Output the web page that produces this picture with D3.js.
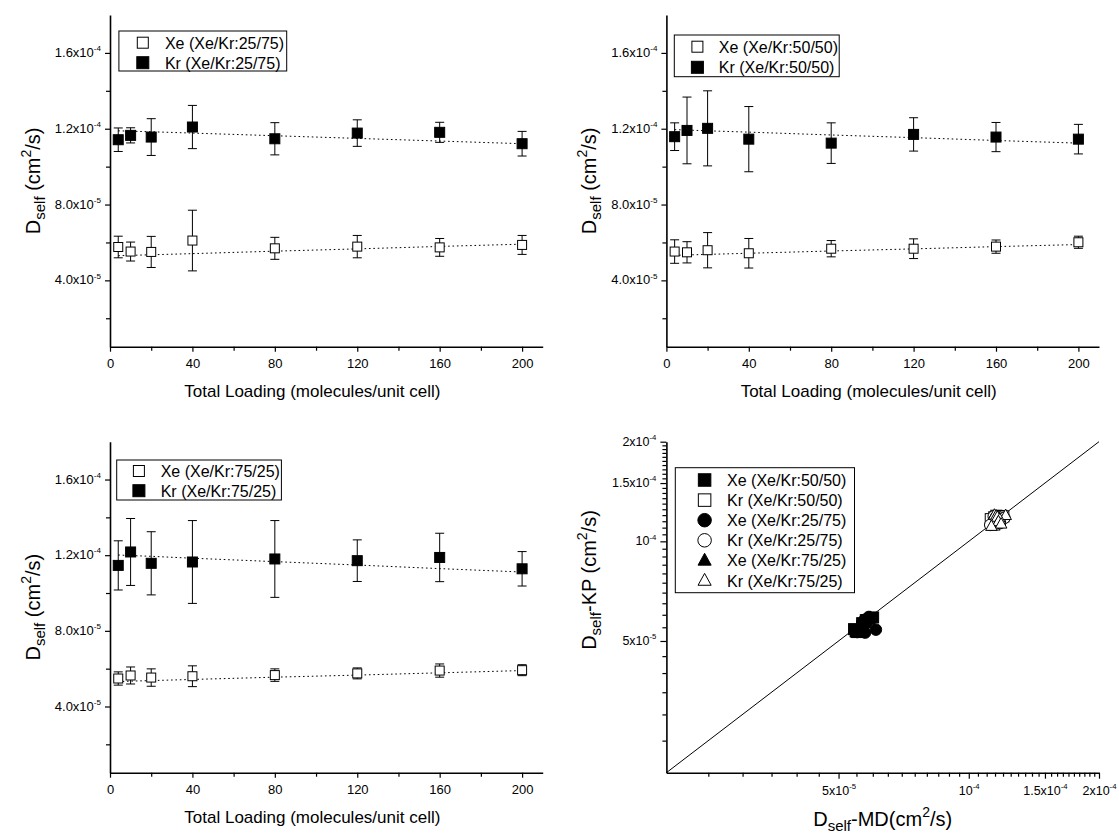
<!DOCTYPE html>
<html>
<head>
<meta charset="utf-8">
<script src="https://cdn.jsdelivr.net/npm/d3@7"></script>
<style>
  body { margin: 0; background: #fff; }
  svg { display: block; }
  text { font-family: "Liberation Sans", Arial, sans-serif; fill: #000; }
</style>
</head>
<body>
<svg id="chart" width="1119" height="838"></svg>
<script>
// ---------------- DATA ----------------
const loading = [4, 10, 20, 40, 80, 120, 160, 200];

// Xe/Kr 25/75
const xe2575    = [5.76e-5, 5.52e-5, 5.50e-5, 6.10e-5, 5.69e-5, 5.78e-5, 5.74e-5, 5.87e-5];
const xe2575Err = [0.57e-5, 0.50e-5, 0.82e-5, 1.60e-5, 0.58e-5, 0.59e-5, 0.47e-5, 0.50e-5];
const kr2575    = [11.42e-5, 11.65e-5, 11.56e-5, 12.09e-5, 11.47e-5, 11.77e-5, 11.81e-5, 11.21e-5];
const kr2575Err = [0.62e-5, 0.40e-5, 0.97e-5, 1.14e-5, 0.85e-5, 0.70e-5, 0.53e-5, 0.65e-5];
const xe2575KP  = [5.30e-5, 5.32e-5, 5.35e-5, 5.41e-5, 5.54e-5, 5.66e-5, 5.79e-5, 5.91e-5];
const kr2575KP  = [11.89e-5, 11.87e-5, 11.84e-5, 11.77e-5, 11.63e-5, 11.49e-5, 11.35e-5, 11.21e-5];

// Xe/Kr 50/50
const xe5050    = [5.52e-5, 5.48e-5, 5.59e-5, 5.43e-5, 5.67e-5, 5.67e-5, 5.78e-5, 6.01e-5];
const xe5050Err = [0.62e-5, 0.56e-5, 0.93e-5, 0.78e-5, 0.43e-5, 0.52e-5, 0.35e-5, 0.32e-5];
const kr5050    = [11.58e-5, 11.91e-5, 12.02e-5, 11.45e-5, 11.24e-5, 11.70e-5, 11.56e-5, 11.45e-5];
const kr5050Err = [0.73e-5, 1.76e-5, 1.98e-5, 1.72e-5, 1.07e-5, 0.88e-5, 0.77e-5, 0.78e-5];
const xe5050KP  = [5.32e-5, 5.34e-5, 5.37e-5, 5.43e-5, 5.55e-5, 5.66e-5, 5.78e-5, 5.89e-5];
const kr5050KP  = [11.95e-5, 11.93e-5, 11.89e-5, 11.82e-5, 11.67e-5, 11.53e-5, 11.38e-5, 11.24e-5];

// Xe/Kr 75/25
const xe7525    = [5.48e-5, 5.64e-5, 5.53e-5, 5.60e-5, 5.66e-5, 5.75e-5, 5.90e-5, 5.92e-5];
const xe7525Err = [0.35e-5, 0.45e-5, 0.46e-5, 0.55e-5, 0.33e-5, 0.29e-5, 0.35e-5, 0.29e-5];
const kr7525    = [11.46e-5, 12.17e-5, 11.57e-5, 11.64e-5, 11.80e-5, 11.71e-5, 11.88e-5, 11.28e-5];
const kr7525Err = [1.30e-5, 1.77e-5, 1.67e-5, 2.19e-5, 2.03e-5, 1.10e-5, 1.28e-5, 0.91e-5];
const xe7525KP  = [5.32e-5, 5.34e-5, 5.37e-5, 5.43e-5, 5.55e-5, 5.66e-5, 5.78e-5, 5.90e-5];
const kr7525KP  = [12.01e-5, 11.98e-5, 11.94e-5, 11.84e-5, 11.66e-5, 11.48e-5, 11.29e-5, 11.11e-5];

// Axis ticks
const xTickVals  = [0, 40, 80, 120, 160, 200];
const xMinorVals = [20, 60, 100, 140, 180];
const yTickVals  = [4e-5, 8e-5, 1.2e-4, 1.6e-4];
const yTickMant  = ["4.0x10", "8.0x10", "1.2x10", "1.6x10"];
const yTickExp   = ["-5", "-5", "-4", "-4"];
const yMinorVals = [2e-5, 6e-5, 1e-4, 1.4e-4];

const logTickVals = [5e-5, 1e-4, 1.5e-4, 2e-4];
const logTickMant = ["5x10", "10", "1.5x10", "2x10"];
const logTickExp  = ["-5", "-4", "-4", "-4"];

const xLabel = "Total Loading (molecules/unit cell)";

// ---------------- DRAWING ----------------
const svg = d3.select("#chart");
svg.append("rect").attr("width", 1119).attr("height", 838).attr("fill", "#fff");
const FONT = "'Liberation Sans', Arial, sans-serif";

function supLabel(textSel, mant, exp, size) {
  textSel.text(null);
  textSel.append("tspan").text(mant).attr("font-size", size);
  textSel.append("tspan").text(exp).attr("font-size", size * 0.62).attr("dy", -size * 0.45);
}

function yTitle(g, x, y, rest) {
  const t = g.append("text").attr("transform", `translate(${x},${y}) rotate(-90)`)
    .attr("text-anchor", "middle").attr("font-size", 20);
  t.append("tspan").text("D");
  t.append("tspan").text("self").attr("font-size", 15).attr("dy", 5);
  t.append("tspan").text(rest).attr("font-size", 20).attr("dy", -5);
  t.append("tspan").text("2").attr("font-size", 14).attr("dy", -9);
  t.append("tspan").text("/s)").attr("font-size", 20).attr("dy", 9);
}

function marker(g, shape, filled, cx, cy, size) {
  const fill = filled ? "#000" : "#fff";
  let el;
  if (shape === "square") {
    el = g.append("rect").attr("x", cx - size / 2).attr("y", cy - size / 2)
      .attr("width", size).attr("height", size);
  } else if (shape === "circle") {
    el = g.append("circle").attr("cx", cx).attr("cy", cy).attr("r", size / 2);
  } else {
    const h = size * 0.95, w = size * 1.05;
    el = g.append("path").attr("d",
      `M${cx},${cy - h * 0.6}L${cx + w / 2},${cy + h * 0.4}L${cx - w / 2},${cy + h * 0.4}Z`);
  }
  el.attr("fill", fill).attr("stroke", "#000").attr("stroke-width", 1);
}

function loadingPanel(box, series, legendBox) {
  const g = svg.append("g");
  const x = d3.scaleLinear().domain([0, 210]).range([box.left, box.right]);
  const y = d3.scaleLinear().domain([0.5e-5, 1.8e-4]).range([box.bottom, box.top]);

  // axes
  const xAxis = d3.axisBottom(x).tickValues(xTickVals).tickSize(5).tickSizeOuter(0)
    .tickFormat(d3.format("d"));
  const gx = g.append("g").attr("transform", `translate(0,${box.bottom})`).call(xAxis);
  gx.selectAll("text").attr("font-size", 13).attr("font-family", FONT).attr("dy", "1.0em");
  g.append("g").attr("transform", `translate(0,${box.bottom})`)
    .call(d3.axisBottom(x).tickValues(xMinorVals).tickSize(4).tickSizeOuter(0).tickFormat(""))
    .select(".domain").remove();

  const yAxis = d3.axisLeft(y).tickValues(yTickVals).tickSize(5).tickSizeOuter(0)
    .tickFormat(() => "");
  const gy = g.append("g").attr("transform", `translate(${box.left},0)`).call(yAxis);
  gy.selectAll(".tick text").each(function (d, i) {
    d3.select(this).attr("x", -9).attr("dy", "0.35em").attr("font-family", FONT);
    supLabel(d3.select(this), yTickMant[i], yTickExp[i], 13);
  });
  g.append("g").attr("transform", `translate(${box.left},0)`)
    .call(d3.axisLeft(y).tickValues(yMinorVals).tickSize(4).tickSizeOuter(0).tickFormat(""))
    .select(".domain").remove();
  g.selectAll(".domain").attr("stroke-width", 1.6);
  g.selectAll(".tick line").attr("stroke-width", 1.2);

  // titles
  g.append("text").attr("x", (box.left + box.right) / 2 - 14).attr("y", box.bottom + 50)
    .attr("text-anchor", "middle").attr("font-size", 17).text(xLabel);
  yTitle(g, box.left - 70, (box.top + box.bottom) / 2, " (cm");

  // series
  series.forEach(s => {
    const line = d3.line().x((d, i) => x(loading[i])).y(d => y(d));
    g.append("path").datum(s.kp).attr("d", line).attr("fill", "none")
      .attr("stroke", "#000").attr("stroke-width", 1).attr("stroke-dasharray", "1.6,2.8");
  });
  series.forEach(s => {
    s.vals.forEach((v, i) => {
      const cx = x(loading[i]);
      const y1 = y(v + s.err[i]), y2 = y(v - s.err[i]);
      g.append("line").attr("x1", cx).attr("x2", cx).attr("y1", y1).attr("y2", y2)
        .attr("stroke", "#000").attr("stroke-width", 1);
      [y1, y2].forEach(yy => g.append("line").attr("x1", cx - 4.5).attr("x2", cx + 4.5)
        .attr("y1", yy).attr("y2", yy).attr("stroke", "#000").attr("stroke-width", 1));
    });
  });
  series.forEach(s => {
    s.vals.forEach((v, i) => marker(g, "square", s.filled, x(loading[i]), y(v), s.filled ? 10 : 9));
  });

  // legend
  const lb = legendBox;
  g.append("rect").attr("x", lb.x).attr("y", lb.y).attr("width", lb.w).attr("height", lb.h)
    .attr("fill", "#fff").attr("stroke", "#000").attr("stroke-width", 1);
  series.forEach((s, i) => {
    const cy = lb.y + lb.row0 + i * lb.dy;
    marker(g, "square", s.filled, lb.mx, cy, s.filled ? 12 : 11);
    g.append("text").attr("x", lb.tx).attr("y", cy + 6).attr("font-size", 16).text(s.name);
  });
}

loadingPanel({ left: 110, right: 542.7, top: 15, bottom: 346.7 }, [
  { name: "Xe (Xe/Kr:25/75)", vals: xe2575, err: xe2575Err, kp: xe2575KP, filled: false },
  { name: "Kr (Xe/Kr:25/75)", vals: kr2575, err: kr2575Err, kp: kr2575KP, filled: true }
], { x: 118.9, y: 31, w: 167.8, h: 40, row0: 11.7, dy: 20, mx: 142.8, tx: 164.9 });

loadingPanel({ left: 666.4, right: 1099, top: 15, bottom: 346.7 }, [
  { name: "Xe (Xe/Kr:50/50)", vals: xe5050, err: xe5050Err, kp: xe5050KP, filled: false },
  { name: "Kr (Xe/Kr:50/50)", vals: kr5050, err: kr5050Err, kp: kr5050KP, filled: true }
], { x: 674.3, y: 35, w: 164.9, h: 41.7, row0: 11.7, dy: 20.6, mx: 697.4, tx: 718.8 });

loadingPanel({ left: 110, right: 542.7, top: 441.7, bottom: 772.7 }, [
  { name: "Xe (Xe/Kr:75/25)", vals: xe7525, err: xe7525Err, kp: xe7525KP, filled: false },
  { name: "Kr (Xe/Kr:75/25)", vals: kr7525, err: kr7525Err, kp: kr7525KP, filled: true }
], { x: 116.7, y: 460, w: 164.7, h: 40, row0: 11, dy: 19.7, mx: 138.9, tx: 160.7 });

// ---------------- Panel 4: KP vs MD (log-log) ----------------
(function () {
  const box = { left: 666.4, right: 1099, top: 441.7, bottom: 772.7 };
  const g = svg.append("g");
  const x = d3.scaleLog().domain([2e-5, 2e-4]).range([box.left, box.right]);
  const y = d3.scaleLog().domain([2e-5, 2e-4]).range([box.bottom, box.top]);
  const minor = d3.range(2.5e-5, 2.0e-4, 5e-6).filter(v => !logTickVals.some(t => Math.abs(t - v) < 1e-7));

  const gx = g.append("g").attr("transform", `translate(0,${box.bottom})`)
    .call(d3.axisBottom(x).tickValues(logTickVals).tickSize(6).tickSizeOuter(0).tickFormat(() => ""));
  gx.selectAll(".tick text").each(function (d, i) {
    d3.select(this).attr("dy", "1.3em").attr("font-family", FONT);
    supLabel(d3.select(this), logTickMant[i], logTickExp[i], 12.5);
  });
  g.append("g").attr("transform", `translate(0,${box.bottom})`)
    .call(d3.axisBottom(x).tickValues(minor).tickSize(4).tickSizeOuter(0).tickFormat(""))
    .select(".domain").remove();

  const gy = g.append("g").attr("transform", `translate(${box.left},0)`)
    .call(d3.axisLeft(y).tickValues(logTickVals).tickSize(6).tickSizeOuter(0).tickFormat(() => ""));
  gy.selectAll(".tick text").each(function (d, i) {
    d3.select(this).attr("x", -10).attr("dy", "0.35em").attr("font-family", FONT);
    supLabel(d3.select(this), logTickMant[i], logTickExp[i], 12.5);
  });
  g.append("g").attr("transform", `translate(${box.left},0)`)
    .call(d3.axisLeft(y).tickValues(minor).tickSize(4).tickSizeOuter(0).tickFormat(""))
    .select(".domain").remove();
  g.selectAll(".domain").attr("stroke-width", 1.6);
  g.selectAll(".tick line").attr("stroke-width", 1.2);

  // y = x reference line
  g.append("line").attr("x1", x(2e-5)).attr("y1", y(2e-5)).attr("x2", x(2e-4)).attr("y2", y(2e-4))
    .attr("stroke", "#000").attr("stroke-width", 1);

  const series = [
    { name: "Xe (Xe/Kr:50/50)", md: xe5050, kp: xe5050KP, shape: "square", filled: true },
    { name: "Kr (Xe/Kr:50/50)", md: kr5050, kp: kr5050KP, shape: "square", filled: false },
    { name: "Xe (Xe/Kr:25/75)", md: xe2575, kp: xe2575KP, shape: "circle", filled: true },
    { name: "Kr (Xe/Kr:25/75)", md: kr2575, kp: kr2575KP, shape: "circle", filled: false },
    { name: "Xe (Xe/Kr:75/25)", md: xe7525, kp: xe7525KP, shape: "triangle", filled: true },
    { name: "Kr (Xe/Kr:75/25)", md: kr7525, kp: kr7525KP, shape: "triangle", filled: false }
  ];
  series.forEach(s => s.md.forEach((v, i) =>
    marker(g, s.shape, s.filled, x(v), y(s.kp[i]), s.shape === "circle" ? 11.5 : 11)));

  // legend
  g.append("rect").attr("x", 675.3).attr("y", 467.7).attr("width", 179.2).attr("height", 125)
    .attr("fill", "#fff").attr("stroke", "#000").attr("stroke-width", 1);
  series.forEach((s, i) => {
    const cy = 480 + i * 20.1;
    marker(g, s.shape, s.filled, 704.6, cy, s.shape === "circle" ? 13.5 : 12.5);
    g.append("text").attr("x", 727.1).attr("y", cy + 6).attr("font-size", 16).text(s.name);
  });

  // titles
  const t = g.append("text").attr("x", (box.left + box.right) / 2).attr("y", 826)
    .attr("text-anchor", "middle").attr("font-size", 20);
  t.append("tspan").text("D");
  t.append("tspan").text("self").attr("font-size", 15).attr("dy", 5);
  t.append("tspan").text("-MD(cm").attr("font-size", 20).attr("dy", -5);
  t.append("tspan").text("2").attr("font-size", 14).attr("dy", -9);
  t.append("tspan").text("/s)").attr("font-size", 20).attr("dy", 9);
  yTitle(g, box.left - 70, 580, "-KP (cm");
})();
</script>
</body>
</html>
